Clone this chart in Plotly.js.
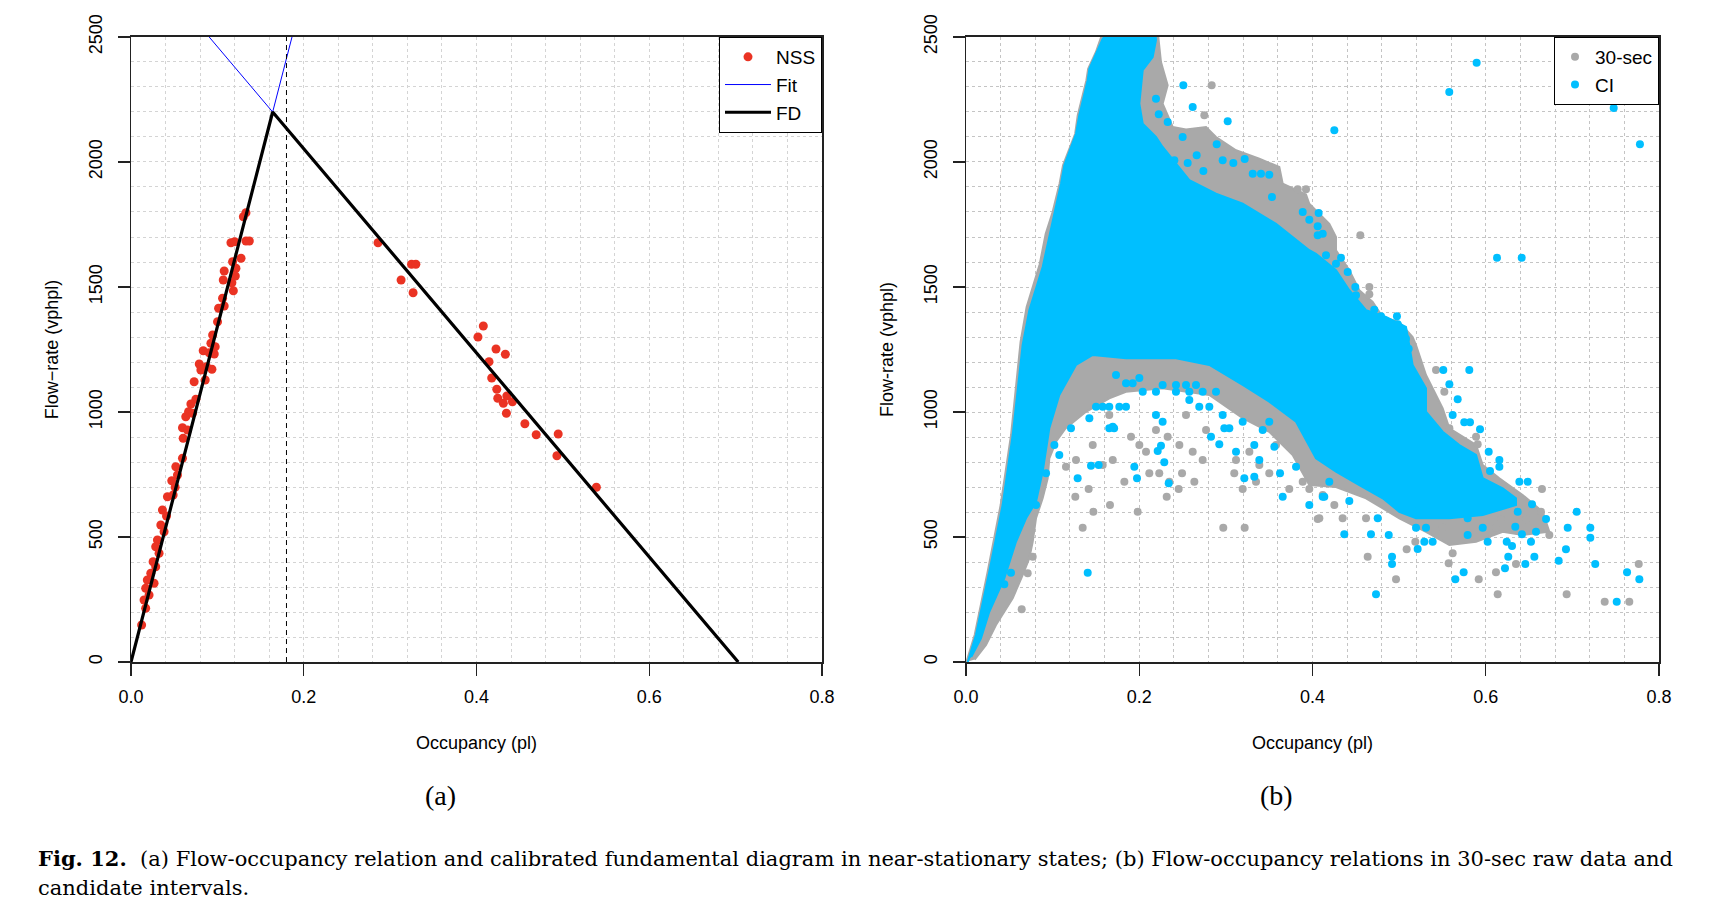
<!DOCTYPE html>
<html>
<head>
<meta charset="utf-8">
<script src="https://cdn.plot.ly/plotly-3.0.1.min.js"></script>
<style>html,body{margin:0;padding:0;background:#fff;}#chart{width:1736px;height:920px;}</style>
</head>
<body>
<div id="chart"></div>
<script>
// ---------- Panel (a): near-stationary states ----------
const nssOcc = [0.1331,0.1301,0.1157,0.1200,0.1331,0.1370,0.1274,0.1176,0.1079,0.1215,0.1208,0.1168,0.1185,0.1068,0.1060,0.1014,0.1079,0.1002,0.0945,0.0925,0.0975,0.0836,0.0905,0.0964,0.0790,0.0875,0.0937,0.0809,0.0731,0.0859,0.0751,0.0693,0.0666,0.0634,0.0712,0.0596,0.0654,0.0604,0.0596,0.0519,0.0538,0.0472,0.0511,0.0422,0.0488,0.0364,0.0411,0.0345,0.0383,0.0306,0.0286,0.0325,0.0256,0.0286,0.0229,0.0189,0.0267,0.0170,0.0209,0.0151,0.0170,0.0123,
  0.2860,0.3248,0.3298,0.3127,0.3266,0.4079,0.4017,0.4226,0.4334,0.4145,0.4176,0.4235,0.4246,0.4351,0.4311,0.4416,0.4346,0.4560,0.4691,0.4946,0.4931,0.5388];
const nssFlow = [1797,1781,1677,1681,1684,1684,1615,1601,1564,1575,1544,1517,1485,1528,1455,1415,1424,1361,1308,1275,1261,1245,1237,1232,1192,1181,1171,1168,1121,1128,1051,1032,1001,981,995,937,928,895,815,781,748,725,699,661,668,608,584,548,521,488,461,435,401,381,355,328,315,295,268,248,215,148,
  1677,1591,1591,1528,1477,1344,1300,1252,1231,1201,1136,1091,1055,1064,1035,1041,995,953,909,912,825,699];

const fitFreeOcc = [0, 0.1864];
const fitFreeFlow = [0, 2500];
const fitCongOcc = [0.0905, 0.703];
const fitCongFlow = [2500, 0];
const fdOcc = [0, 0.164, 0.703];
const fdFlow = [0, 2200, 0];
const criticalOcc = [0.18, 0.18];
const criticalFlow = [0, 2500];

// ---------- Panel (b): 30-sec raw data and candidate intervals ----------
const rawRegionOcc = [0.0005,0.010,0.025,0.040,0.052,0.059,0.063,0.070,0.085,0.092,0.100,0.108,0.112,0.126,0.129,0.139,0.141,0.150,0.156,0.222,0.2251,0.2328,0.2270,0.2386,0.2540,0.2771,0.2886,0.3117,0.3386,0.3617,0.3656,0.3925,0.3963,0.4194,0.4271,0.4271,0.4425,0.4540,0.4695,0.4810,0.5002,0.5156,0.5195,0.5310,0.5503,0.5580,0.5888,0.5965,0.6157,0.6426,0.6657,0.6734,0.6426,0.6196,0.5888,0.5580,0.5310,0.5002,0.4618,0.4271,0.3963,0.3771,0.3501,0.3194,0.2809,0.2270,0.1847,0.1654,0.1385,0.1151,0.1039,0.0962,0.0943,0.0885,0.0808,0.0770,0.0731,0.0654,0.0539,0.0346,0.0231,0.010];
const rawRegionFlow = [0,108,361,628,908,1161,1280,1420,1590,1713,1800,1913,1987,2113,2187,2327,2373,2440,2500,2500,2400,2307,2233,2140,2130,2140,2100,2047,2013,1980,1913,1870,1833,1753,1700,1647,1567,1487,1440,1380,1360,1300,1268,1148,1015,935,868,788,735,668,601,521,508,521,481,468,521,575,655,700,708,828,921,975,1068,1095,1081,1055,1001,935,881,815,735,655,575,481,415,348,255,148,68,10];

const ciRegionOcc = [0.002,0.0115,0.0269,0.0423,0.0539,0.0615,0.0654,0.0731,0.0885,0.1020,0.1097,0.1135,0.1270,0.1308,0.1405,0.1424,0.1578,0.160,0.219,0.2193,0.2155,0.2040,0.2001,0.2040,0.2193,0.2270,0.2578,0.2886,0.3194,0.3579,0.3963,0.4040,0.4271,0.4425,0.4618,0.4848,0.5079,0.5117,0.5156,0.5310,0.5310,0.5503,0.5695,0.5888,0.5965,0.6196,0.6349,0.6349,0.5965,0.5580,0.5195,0.5002,0.4810,0.4540,0.4271,0.4040,0.3810,0.3501,0.3194,0.2809,0.2424,0.1847,0.1463,0.1270,0.1077,0.0962,0.0885,0.0808,0.0693,0.0577,0.0519,0.0442,0.0269,0.0173,0.006];
const ciRegionFlow = [0,108,361,628,908,1161,1268,1407,1580,1793,1913,1987,2113,2187,2327,2373,2493,2500,2500,2487,2420,2367,2233,2153,2100,2060,1927,1873,1833,1753,1647,1633,1567,1487,1407,1380,1340,1268,1188,1095,1001,921,868,828,735,695,655,628,588,575,575,601,655,708,761,815,961,1041,1108,1188,1215,1215,1228,1188,1068,935,761,641,575,481,415,335,201,95,20];

const rawOcc = [0.1347,0.1470,0.1262,0.1416,0.1662,0.1982,0.1828,0.2116,0.2231,0.2317,0.2455,0.2636,0.2494,0.2347,0.2970,0.3217,0.3097,0.3194,0.3348,0.3501,0.3732,0.4060,0.3963,0.1905,0.2001,0.2078,0.2193,0.2328,0.2463,0.2617,0.2732,0.2771,0.2540,0.1463,0.1270,0.1154,0.1578,0.1694,0.1654,0.3117,0.3271,0.3386,0.3579,0.3887,0.4118,0.0770,0.0712,0.0643,
  0.4637,0.4964,0.5087,0.5187,0.5572,0.5618,0.5919,0.6118,0.6138,0.6349,0.6934,0.7373,0.7657,0.7766,0.6649,0.6734,0.6638,0.6465,0.6176,0.6118,0.5426,0.5522,0.5580,0.5888,0.5907,0.4252,0.4079,0.4348,0.4618,0.5503,
  0.4552,0.4656,0.4656,0.2836,0.2751,0.3829,0.3925];
const rawFlow = [537,601,661,692,628,601,721,755,755,661,692,721,755,721,537,537,755,692,721,755,692,572,692,901,868,841,928,901,868,841,808,928,988,868,808,781,788,808,988,808,841,788,868,721,668,421,355,211,
  421,331,451,481,395,435,331,359,271,392,271,241,241,392,692,508,601,571,571,537,1168,1081,935,901,871,628,575,575,575,537,
  1707,1500,1471,2307,2187,1891,1891];

const ciOcc = [0.1405,0.1289,0.1443,0.1531,0.1943,0.1974,0.2213,0.2251,0.2289,0.2340,0.2193,0.2270,0.1654,0.1710,0.1424,0.1077,0.1020,0.1212,0.2828,0.2924,0.2982,0.3117,0.3213,0.3328,0.3328,0.3386,0.3559,0.3625,0.3656,0.3963,0.4136,0.4194,0.3810,0.2693,0.0442,0.0519,0.0924,0.0808,
  0.1501,0.1578,0.1654,0.1770,0.1847,0.1694,0.2040,0.2193,0.2424,0.2578,0.2732,0.2886,0.2270,0.2424,0.2540,0.2655,0.2578,0.2809,0.2963,0.3040,0.3194,0.3425,0.3501,0.1732,0.1847,0.1924,0.2001,
  0.5810,0.5510,0.5580,0.5676,0.5618,0.5752,0.5818,0.5934,0.6034,0.6157,0.6157,0.6049,0.6388,0.6484,0.6534,0.6696,0.7050,0.6946,0.7207,0.7207,0.6926,0.6842,0.7264,0.7631,0.7773,0.7512,0.4733,0.4918,0.4918,0.5649,0.5745,0.6222,0.6260,0.6457,0.6561,0.6303,0.6242,0.6522,0.6580,0.6418,0.6341,0.6369,0.4367,0.4675,0.4880,0.5214,0.5291,0.5387,0.5195,0.5310,0.6022,0.4118,0.4425,0.4753,0.5187,0.5791,0.5791,0.5965,
  0.5895,0.5579,0.4252,0.7477,0.7780,0.6130,0.6415,0.4071,
  0.2193,0.2225,0.2328,0.2501,0.2405,0.2559,0.2663,0.2740,0.2894,0.2963,0.3086,0.3217,0.3310,0.3405,0.3501,0.3532,0.3887,0.3963,0.4060,0.4060,0.4156,0.4271,0.4118,0.4329,0.4406,0.4494,0.4502,0.4713,0.4791,0.4975,0.4984,0.5079,0.5110,
  0.2509,0.2617,0.3021];
const ciFlow = [357,735,785,788,781,735,844,865,799,715,988,961,935,935,975,828,868,935,901,871,935,841,735,741,868,808,861,755,661,628,661,721,781,1021,311,357,755,628,
  1021,1021,1021,1021,1021,941,1081,1081,1081,1081,1081,1081,1108,1108,1108,1108,1048,1021,988,935,961,928,961,1148,1115,1115,1136,
  1168,1168,1111,1051,988,959,959,931,841,808,781,764,721,721,631,572,601,537,537,497,451,405,392,359,331,241,271,421,392,331,359,375,421,392,421,464,481,481,521,511,541,601,511,511,508,452,481,481,537,537,481,661,644,575,601,575,508,537,
  2397,2280,2127,2216,2071,1617,1617,1796,
  2253,2191,2160,2100,2007,1996,2027,1964,2071,2007,1996,2012,1953,1953,1949,1860,1800,1769,1743,1707,1627,1593,1713,1617,1560,1500,1467,1409,1383,1383,1351,1293,1253,
  2307,2220,2163];

const xTickVals = [0, 0.2, 0.4, 0.6, 0.8];
const xTickText = ['0.0', '0.2', '0.4', '0.6', '0.8'];
const yTickVals = [0, 500, 1000, 1500, 2000, 2500];
const yTickText = ['0', '500', '1000', '1500', '2000', '2500'];

const RED = '#EA3323', GRAY = '#A9A9A9', SKY = '#00BFFF';
const sans = 'Liberation Sans, Arial, sans-serif';

const traces = [
  {x: nssOcc, y: nssFlow, xaxis: 'x', yaxis: 'y', type: 'scatter', mode: 'markers', name: 'NSS',
   marker: {color: RED, size: 9}, legend: 'legend'},
  {x: fitFreeOcc, y: fitFreeFlow, xaxis: 'x', yaxis: 'y', type: 'scatter', mode: 'lines', name: 'Fit',
   line: {color: '#0000FF', width: 1}, legendgroup: 'fit', legend: 'legend'},
  {x: fitCongOcc, y: fitCongFlow, xaxis: 'x', yaxis: 'y', type: 'scatter', mode: 'lines', name: 'Fit',
   line: {color: '#0000FF', width: 1}, legendgroup: 'fit', showlegend: false},
  {x: fdOcc, y: fdFlow, xaxis: 'x', yaxis: 'y', type: 'scatter', mode: 'lines', name: 'FD',
   line: {color: '#000000', width: 3.2}, legend: 'legend'},
  {x: criticalOcc, y: criticalFlow, xaxis: 'x', yaxis: 'y', type: 'scatter', mode: 'lines',
   line: {color: '#000000', width: 1, dash: '5px,4px'}, showlegend: false, hoverinfo: 'skip'},

  {x: rawRegionOcc, y: rawRegionFlow, xaxis: 'x2', yaxis: 'y2', type: 'scatter', mode: 'lines', fill: 'toself',
   fillcolor: GRAY, line: {color: GRAY, width: 2}, showlegend: false, hoverinfo: 'skip'},
  {x: rawOcc, y: rawFlow, xaxis: 'x2', yaxis: 'y2', type: 'scatter', mode: 'markers', name: '30-sec',
   marker: {color: GRAY, size: 8}, legend: 'legend2'},
  {x: ciRegionOcc, y: ciRegionFlow, xaxis: 'x2', yaxis: 'y2', type: 'scatter', mode: 'lines', fill: 'toself',
   fillcolor: SKY, line: {color: SKY, width: 2}, showlegend: false, hoverinfo: 'skip'},
  {x: ciOcc, y: ciFlow, xaxis: 'x2', yaxis: 'y2', type: 'scatter', mode: 'markers', name: 'CI',
   marker: {color: SKY, size: 8}, legend: 'legend2'}
];

function xAxis(domain, gridColor, title) {
  return {
    domain: domain, range: [0, 0.8], autorange: false, fixedrange: true,
    tickvals: xTickVals, ticktext: xTickText, ticks: 'outside', ticklen: 12, tickwidth: 1.3, tickcolor: '#222',
    ticklabelstandoff: 6,
    showline: true, linecolor: '#222', linewidth: 1.5, mirror: true, zeroline: false,
    showgrid: true, gridcolor: gridColor, griddash: 'dot', gridwidth: 1,
    minor: {dtick: 0.04, tick0: 0, showgrid: true, gridcolor: gridColor, griddash: 'dot', gridwidth: 1, ticks: ''},
    tickfont: {family: sans, size: 18, color: '#000'},
    title: {text: title, font: {family: sans, size: 18, color: '#000'}, standoff: 30}
  };
}
function yAxis(anchor, gridColor, title) {
  return {
    domain: [0.2804, 0.9598], range: [0, 2500], autorange: false, fixedrange: true, anchor: anchor,
    tickvals: yTickVals, ticktext: yTickText, ticks: 'outside', ticklen: 12, tickwidth: 1.3, tickcolor: '#222',
    tickangle: -90, ticklabelstandoff: 8,
    showline: true, linecolor: '#222', linewidth: 1.5, mirror: true, zeroline: false,
    showgrid: true, gridcolor: gridColor, griddash: 'dot', gridwidth: 1,
    minor: {dtick: 100, tick0: 0, showgrid: true, gridcolor: gridColor, griddash: 'dot', gridwidth: 1, ticks: ''},
    tickfont: {family: sans, size: 18, color: '#000'},
    title: {text: title, font: {family: sans, size: 18, color: '#000'}, standoff: 23}
  };
}

const xa = xAxis([131/1736, 822/1736], '#D4D4D4', 'Occupancy (pl)');
xa.anchor = 'y';
const xb = xAxis([966/1736, 1659/1736], '#C4C4C4', 'Occupancy (pl)');
xb.anchor = 'y2';

const layout = {
  width: 1736, height: 920,
  margin: {l: 0, r: 0, t: 0, b: 0},
  paper_bgcolor: '#FFFFFF', plot_bgcolor: '#FFFFFF',
  showlegend: true,
  xaxis: xa,
  yaxis: yAxis('x', '#D4D4D4', 'Flow\u2212rate (vphpl)'),
  xaxis2: xb,
  yaxis2: yAxis('x2', '#C4C4C4', 'Flow-rate (vphpl)'),
  legend: {x: 822/1736, xanchor: 'right', y: 0.9598, yanchor: 'top', bgcolor: '#FFFFFF', itemwidth: 46,
    bordercolor: '#000', borderwidth: 1, font: {family: sans, size: 19, color: '#000'}, tracegroupgap: 0},
  legend2: {x: 1659/1736, xanchor: 'right', y: 0.9598, yanchor: 'top', bgcolor: '#FFFFFF',
    bordercolor: '#000', borderwidth: 1, font: {family: sans, size: 19, color: '#000'}, tracegroupgap: 0},
  annotations: [
    {text: '(a)', xref: 'paper', yref: 'paper', x: 440/1736, y: (920-795)/920, xanchor: 'center', yanchor: 'middle',
     showarrow: false, font: {family: 'Liberation Serif, Times New Roman, serif', size: 28, color: '#000'}},
    {text: '(b)', xref: 'paper', yref: 'paper', x: 1276/1736, y: (920-795)/920, xanchor: 'center', yanchor: 'middle',
     showarrow: false, font: {family: 'Liberation Serif, Times New Roman, serif', size: 28, color: '#000'}},
    {text: '<b>Fig. 12.</b>  (a) Flow-occupancy relation and calibrated fundamental diagram in near-stationary states; (b) Flow-occupancy relations in 30-sec raw data and',
     xref: 'paper', yref: 'paper', x: 36/1736, y: (920-858)/920, xanchor: 'left', yanchor: 'middle',
     showarrow: false, font: {family: 'DejaVu Serif, serif', size: 21, color: '#000'}},
    {text: 'candidate intervals.',
     xref: 'paper', yref: 'paper', x: 36/1736, y: (920-888)/920, xanchor: 'left', yanchor: 'middle',
     showarrow: false, font: {family: 'DejaVu Serif, serif', size: 21, color: '#000'}}
  ]
};

Plotly.newPlot('chart', traces, layout, {staticPlot: true, displayModeBar: false});
</script>
</body>
</html>
